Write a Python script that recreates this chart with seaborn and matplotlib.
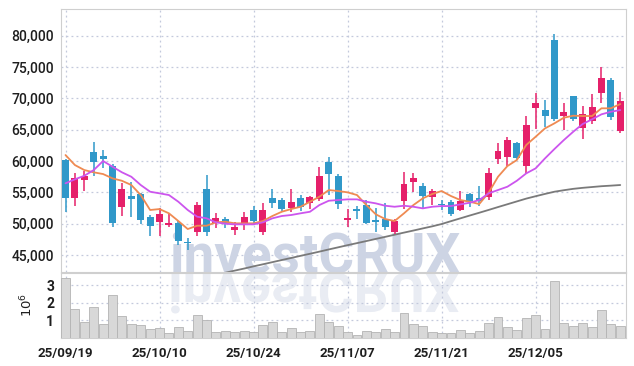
import numpy as np
import pandas as pd
import matplotlib
matplotlib.use('Agg')
from matplotlib import pyplot as plt
from matplotlib import font_manager as fm
from matplotlib.textpath import TextPath
from matplotlib.patches import PathPatch
from matplotlib.transforms import Affine2D, IdentityTransform
import seaborn as sns

# trading days shown (every 10th gets a label)
dates = ['25/09/19', '25/09/22', '25/09/23', '25/09/24', '25/09/25', '25/09/26', '25/09/29', '25/09/30',
         '25/10/01', '25/10/02', '25/10/10', '25/10/13', '25/10/14', '25/10/15', '25/10/16', '25/10/17',
         '25/10/20', '25/10/21', '25/10/22', '25/10/23', '25/10/24', '25/10/27', '25/10/28', '25/10/29',
         '25/10/30', '25/10/31', '25/11/03', '25/11/04', '25/11/05', '25/11/06', '25/11/07', '25/11/10',
         '25/11/11', '25/11/12', '25/11/13', '25/11/14', '25/11/17', '25/11/18', '25/11/19', '25/11/20',
         '25/11/21', '25/11/24', '25/11/25', '25/11/26', '25/11/27', '25/11/28', '25/12/01', '25/12/02',
         '25/12/03', '25/12/04', '25/12/05', '25/12/08', '25/12/09', '25/12/10', '25/12/11', '25/12/12',
         '25/12/15', '25/12/16', '25/12/17', '25/12/18']

opens = [60150, 54150, 56950, 61500, 60800, 59200, 52700, 54450, 54750, 51100,
         50300, 49800, 50050, 47050, 48600, 55550, 50100, 50750, 49050, 49950,
         52250, 48700, 54150, 53750, 52550, 54150, 53350, 53950, 59900, 57600,
         50550, 52300, 53000, 50600, 50750, 48700, 53650, 56600, 56000, 54200,
         53100, 53450, 52200, 54700, 54150, 54200, 60300, 60700, 62900, 59200,
         68450, 68200, 79300, 67150, 70350, 65350, 66350, 70850, 73000, 64850]
highs = [60300, 58050, 58400, 63100, 61750, 59450, 56450, 56600, 54900, 51350,
         52450, 51500, 50400, 47650, 53450, 57750, 51700, 51000, 50200, 51800,
         52800, 53350, 55500, 54050, 55500, 54550, 54400, 59100, 60700, 57900,
         52400, 52800, 53750, 52500, 53250, 50750, 58300, 58050, 56450, 55500,
         53750, 53750, 55250, 54850, 56000, 58850, 62900, 63900, 63100, 67200,
         70850, 69750, 80350, 69250, 70450, 68750, 70750, 74950, 73250, 71050]
lows = [51800, 52850, 55200, 57600, 58850, 49400, 51250, 51050, 49900, 48100,
        48000, 49500, 46600, 45800, 48000, 48100, 49300, 49300, 48250, 49000,
        49900, 48200, 52550, 52100, 51900, 52100, 52350, 53650, 54550, 52350,
        49450, 50800, 50000, 48700, 49000, 48350, 52350, 55000, 52550, 52900,
        52150, 51200, 52050, 52700, 52800, 53750, 59500, 59200, 60150, 58100,
        65150, 65450, 66350, 65000, 66450, 63550, 65850, 69250, 66600, 64450]
closes = [54150, 57250, 57650, 59900, 60300, 50150, 55550, 53950, 50650, 49600,
          51550, 50050, 47200, 46900, 52900, 48700, 50900, 49950, 49500, 51100,
          50350, 52200, 53350, 52350, 53450, 52650, 54300, 57600, 57900, 53100,
          50850, 52100, 50100, 50200, 49500, 50400, 56300, 57350, 54400, 55200,
          52900, 51600, 53650, 53650, 53650, 58050, 61600, 63350, 60550, 65700,
          69250, 67150, 66750, 67800, 66700, 67550, 68650, 73250, 67050, 69600]

# volume, millions of shares
volume = [3.39, 1.62, 0.88, 1.73, 0.76, 2.42, 1.22, 0.76, 0.70, 0.48,
          0.53, 0.25, 0.63, 0.36, 1.28, 0.99, 0.30, 0.36, 0.30, 0.36,
          0.30, 0.70, 0.88, 0.30, 0.53, 0.30, 0.38, 1.33, 0.88, 0.65,
          0.32, 0.13, 0.36, 0.30, 0.48, 0.30, 1.39, 0.78, 0.65, 0.30,
          0.25, 0.25, 0.42, 0.27, 0.36, 0.82, 1.16, 0.59, 0.42, 1.10,
          1.28, 0.48, 3.22, 0.82, 0.65, 0.82, 0.59, 1.56, 0.76, 0.65]

ma_short = [60960, 59360, 58560, 58200, 57920, 57230, 56850, 56170, 54570, 52180,
            52330, 51650, 50420, 49140, 49670, 49670, 50210, 50310, 50050, 50050,
            50050, 50420, 51220, 51900, 52330, 52700, 53500, 54300, 55370, 55210,
            55000, 54570, 52970, 51490, 50740, 50420, 51650, 52970, 54040, 54730,
            55210, 54410, 53770, 53500, 53130, 54940, 57490, 59200, 60160, 62560,
            63880, 65220, 66020, 66920, 67240, 67190, 67190, 68420, 68420, 69100]
ma_mid = [56440, 57080, 57650, 58560, 60000, 59090, 58200, 57490, 56170, 55100,
          54840, 54570, 53500, 52180, 51110, 50850, 50210, 49990, 49890, 49890,
          49890, 50210, 50850, 51220, 51380, 51650, 51900, 52970, 53660, 53770,
          53880, 53880, 53500, 53240, 52860, 52700, 52860, 52700, 52440, 52700,
          52810, 52810, 53080, 53340, 53770, 54840, 55370, 55900, 56850, 58030,
          58830, 60430, 61920, 63350, 64680, 65910, 66660, 67460, 67870, 68140]
ma_long = [np.nan] * 17 + [
    42160, 42500, 42830, 43180, 43510, 43850, 44190, 44520, 44860, 45190,
    45530, 45880, 46220, 46560, 46890, 47220, 47560, 47890, 48230, 48570,
    48900, 49240, 49570, 49940, 50400, 50850, 51300, 51740, 52190, 52650,
    53100, 53550, 54000, 54380, 54750, 55100, 55340, 55560, 55720, 55850,
    55980, 56070, 56170]

df = pd.DataFrame({'date': dates, 'open': opens, 'high': highs, 'low': lows,
                   'close': closes, 'volume': volume,
                   'ma_short': ma_short, 'ma_mid': ma_mid, 'ma_long': ma_long})
df['idx'] = np.arange(len(df))

up_col = '#e5206a'
down_col = '#3098c9'
grid_col = '#c3c9dc'
spine_col = '#cfcfcf'
txt_col = '#1e1e1e'

sns.set_style('white')
plt.rcParams['font.family'] = ['Roboto', 'DejaVu Sans']

fig = plt.figure(figsize=(6.34, 3.66), dpi=100)
ax = fig.add_axes([0.0962, 0.2555, 0.891, 0.719])
axv = fig.add_axes([0.0962, 0.0773, 0.891, 0.1776])

xlim = (-0.48, 59.6)
ticks = list(range(0, len(df), 10))
wm_size = 39.5
wm_x = 0.4498

# watermark
ax.text(wm_x, 0.0, 'investCRUX', transform=ax.transAxes, ha='center', va='baseline',
        fontsize=wm_size, fontweight='bold', color='#cdd4e4', zorder=1)

# price panel
sns.lineplot(data=df, x='idx', y='ma_long', ax=ax, color='#7a7a7a', linewidth=1.3, zorder=2)
up = df['close'] >= df['open']
colors = np.where(up, up_col, down_col)
ax.vlines(df['idx'], df['low'], df['high'], colors=colors, linewidth=1.1, zorder=3)
body = (df['close'] - df['open']).abs().clip(lower=120)
ax.bar(df['idx'], body, bottom=df[['open', 'close']].min(axis=1), width=0.74,
       color=colors, linewidth=0, zorder=3)
sns.lineplot(data=df, x='idx', y='ma_short', ax=ax, color='#ef8a52', linewidth=1.3, zorder=4)
sns.lineplot(data=df, x='idx', y='ma_mid', ax=ax, color='#cc55ee', linewidth=1.3, zorder=4)

ax.set_xlim(xlim)
ax.set_ylim(42200, 84230)
ax.set_yticks(range(45000, 80001, 5000))
ax.set_yticklabels([f'{v:,}' for v in range(45000, 80001, 5000)], fontweight='medium')
ax.set_xticks(ticks)
ax.set_xticklabels([])
ax.set_xlabel('')
ax.set_ylabel('')
ax.grid(True, color=grid_col, linestyle=(0, (1.5, 2.5)), linewidth=0.9)
ax.set_axisbelow(True)
ax.tick_params(length=0, pad=5, labelsize=10, labelcolor=txt_col)
for s in ax.spines.values():
    s.set_color(spine_col)

# volume panel
sns.barplot(data=df, x='idx', y='volume', ax=axv, color='#d8d8d8', edgecolor='#b3b3b3',
            linewidth=0.6, width=0.95, saturation=1, errorbar=None, zorder=3)
axv.set_xlim(xlim)
axv.set_ylim(0, 3.71)
axv.set_yticks([1, 2, 3])
axv.set_yticklabels(['1', '2', '3'], fontweight='bold')
axv.set_xticks(ticks)
axv.set_xticklabels([dates[i] for i in ticks], fontweight='bold')
axv.set_xlabel('')
axv.set_ylabel(r'$10^6$', fontsize=9.5, color=txt_col, labelpad=8)
axv.grid(True, color=grid_col, linestyle=(0, (1.5, 2.5)), linewidth=0.9)
axv.set_axisbelow(True)
axv.tick_params(length=0, labelcolor=txt_col)
axv.tick_params(axis='y', pad=5, labelsize=10)
axv.tick_params(axis='x', pad=7, labelsize=9.5)
for s in axv.spines.values():
    s.set_color(spine_col)

# mirrored watermark under the price panel
fp = fm.FontProperties(family='Roboto', weight='bold')
tp = TextPath((0, 0), 'investCRUX', size=wm_size * 100 / 72, prop=fp)
ext = tp.get_extents()
cx = 61 + wm_x * 564.7
tr = Affine2D().translate(-(ext.x0 + ext.x1) / 2, 0).scale(1, -1).translate(cx, 366 - 273)
patch = PathPatch(tr.transform_path(tp), transform=IdentityTransform(), color='#e9ecf3',
                  linewidth=0, zorder=0.5)
axv.add_artist(patch)
patch.set_clip_path(axv.patch)

fig.savefig('out.png', dpi=100)
